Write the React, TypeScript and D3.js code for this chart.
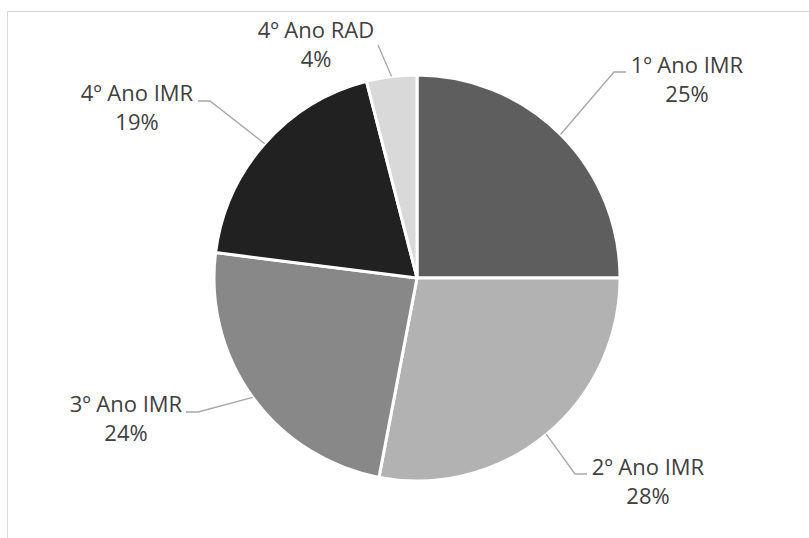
import React from 'react';
import * as d3 from 'd3';

// chart data
const categories = ['1º Ano IMR', '2º Ano IMR', '3º Ano IMR', '4º Ano IMR', '4º Ano RAD'];
const shares = [25, 28, 24, 19, 4];
const sliceColors = ['#5e5e5e', '#b2b2b2', '#888888', '#212121', '#d9d9d9'];

// label placement, relative to pie centre (dragged labels like in Excel)
const labelLayout = [
  { ex: 197, ey: -206, tail: 12, tx: 270, ty: -205 },
  { ex: 158, ey: 196, tail: 12, tx: 231, ty: 197 },
  { ex: -219, ey: 134, tail: -12, tx: -291, ty: 134 },
  { ex: -207, ey: -177, tail: -12, tx: -280, ty: -177 },
  { ex: -39, ey: -233, tail: 0, tx: -101, ty: -240 },
];

const W = 809;
const H = 538;
const cx = 417;
const cy = 278;
const radius = 203;

export default function App() {
  const data = categories.map((name, i) => ({ name, value: shares[i], color: sliceColors[i] }));
  const pie = d3.pie<any>().value((d: any) => d.value).sort(null);
  const arcs = pie(data);
  const arc = d3.arc<any>().innerRadius(0).outerRadius(radius);
  const edge = d3.arc<any>().innerRadius(radius).outerRadius(radius);
  const total = d3.sum(shares);
  const pct = d3.format('.0%');

  return (
    <svg width={W} height={H} style={{ position: 'absolute', left: 0, top: 0, background: '#fff' }}>
      <rect x={7.5} y={11.5} width={900} height={900} fill="none" stroke="#d9d9d9" strokeWidth={1} />
      <g transform={`translate(${cx},${cy})`}>
        {arcs.map((a, i) => (
          <path key={i} d={arc(a) as string} fill={a.data.color} stroke="#fff" strokeWidth={3} strokeLinejoin="round" />
        ))}
        {arcs.map((a, i) => {
          const [px, py] = edge.centroid(a);
          const l = labelLayout[i];
          const pts = [[px, py], [l.ex, l.ey], [l.ex + l.tail, l.ey]];
          return (
            <path key={'l' + i} d={d3.line()(pts as [number, number][]) as string}
              fill="none" stroke="#a6a6a6" strokeWidth={1.3} />
          );
        })}
        {arcs.map((a, i) => {
          const l = labelLayout[i];
          return (
            <text key={'t' + i} x={l.tx} y={l.ty} textAnchor="middle"
              style={{ fontFamily: '"Open Sans", Lato, sans-serif', fontSize: 22, fill: '#404040' }}>
              <tspan x={l.tx}>{a.data.name}</tspan>
              <tspan x={l.tx} dy={29}>{pct(a.data.value / total)}</tspan>
            </text>
          );
        })}
      </g>
    </svg>
  );
}
